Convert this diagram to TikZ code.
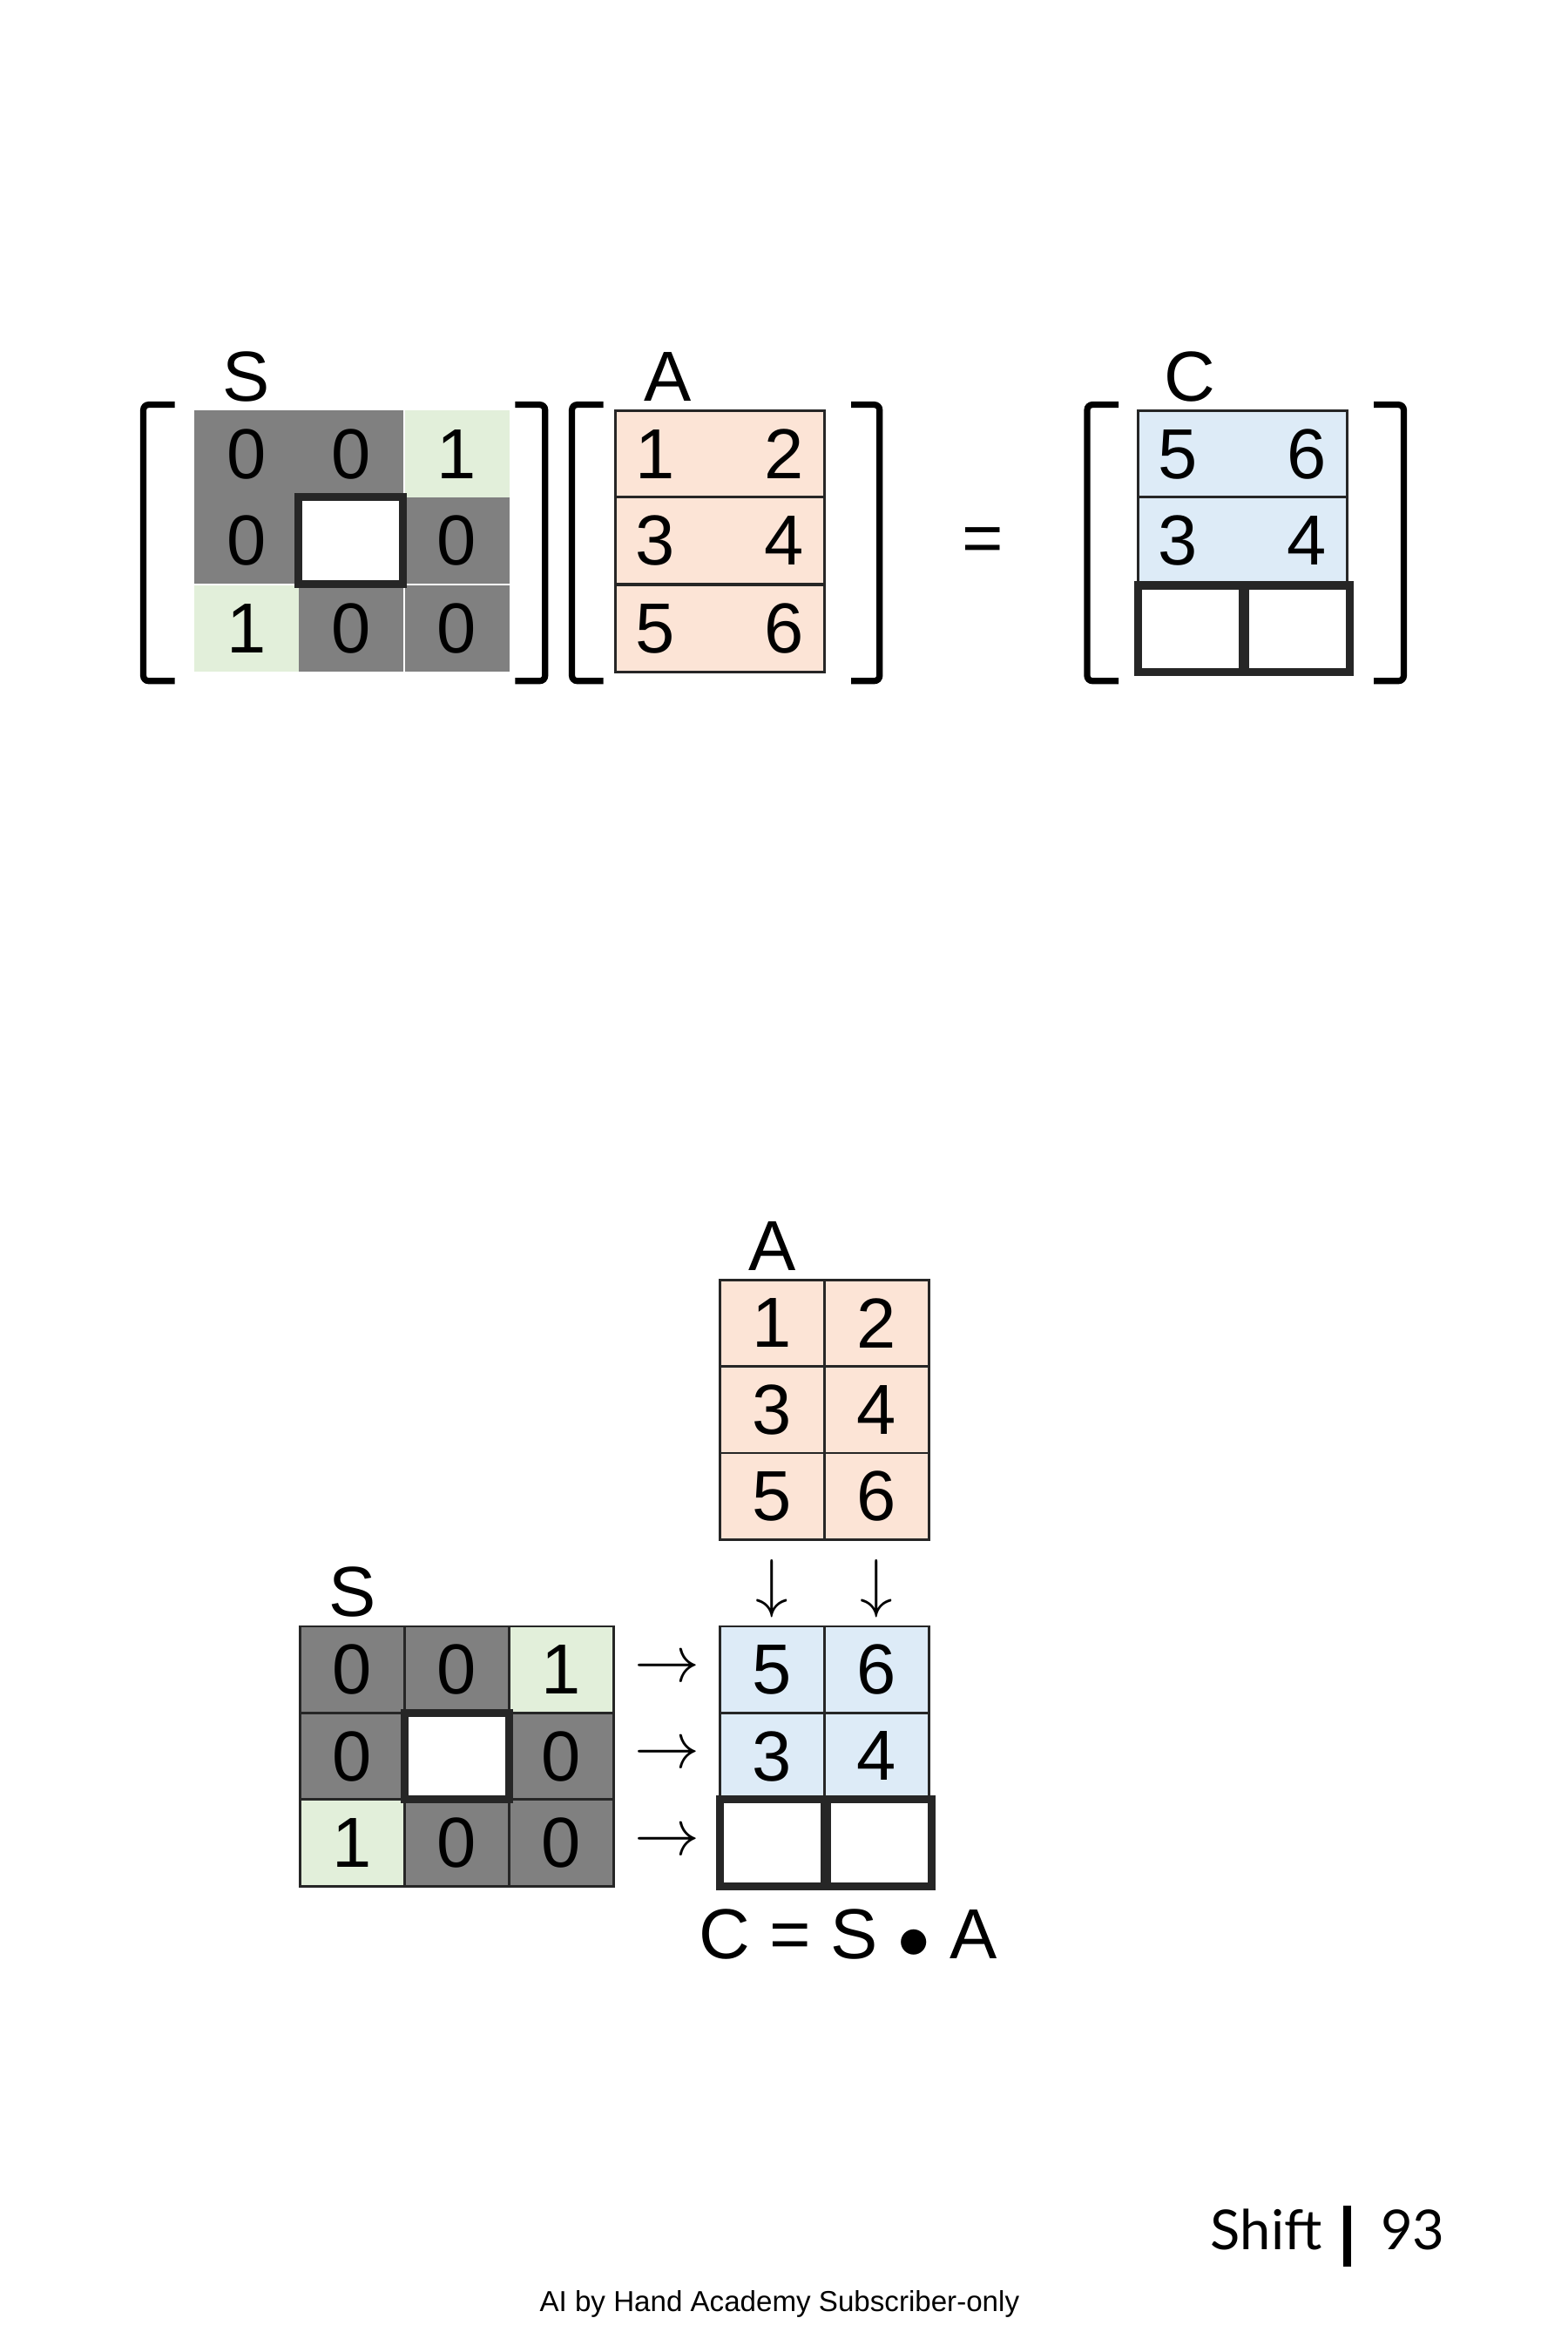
\documentclass[tikz,border=0pt]{standalone}
\usepackage{fontspec}
\setmainfont{Liberation Sans}
\newfontfamily\pagefont{Lato}
\usetikzlibrary{positioning}
\definecolor{sgray}{HTML}{808080}
\definecolor{sgreen}{HTML}{E2EFDA}
\definecolor{apeach}{HTML}{FCE4D6}
\definecolor{cblue}{HTML}{DDEBF7}
\tikzset{
	every node/.style={align=center, font=\fontsize{27}{30}\selectfont},
	%
	cell/.style={minimum width=1.4cm, minimum height=1.16cm, inner sep=0pt,
		outer sep=0pt, draw=black!85, line width=0.9pt},
	dark/.style={cell, fill=sgray},
	light/.style={cell, fill=sgreen},
	hole/.style={cell, fill=white, line width=3pt},
	peach/.style={cell, fill=apeach},
	blue/.style={cell, fill=cblue},
	bracket/.style={line width=2.4pt, rounded corners=2pt},
}
\begin{document}
\begin{tikzpicture}[x=0.02cm, y=-0.02cm]
		\useasboundingbox (0,0) rectangle (1050,1575);
		% top row: S A = C
		\foreach \r/\y in {0/304, 1/362, 2/421} {
			\foreach \c/\x in {0/165, 1/235, 2/306} {
				\node (ts-\r-\c) [dark, draw=none] at (\x,\y) {};
			}
		}
		\node [light, draw=none] at (ts-0-2) {1};
		\node [light, draw=none] at (ts-2-0) {1};
		\foreach \n in {0-0, 0-1, 1-0, 1-2, 2-1, 2-2} {
			\node at (ts-\n) {0};
		}
		\node [hole] at (ts-1-1) {};
		\node (ts) [above=0pt of ts-0-0] {S};
		\draw [bracket] (117,271) -- (96,271) -- (96,456) -- (117,456);
		\draw [bracket] (345,271) -- (365,271) -- (365,456) -- (345,456);
		%
		\foreach \r/\y/\a/\b in {0/304/1/2, 1/362/3/4, 2/421/5/6} {
			\node (ta-\r) [peach, minimum width=2.8cm] at (482,\y) {\a\hspace{1.2cm}\b};
		}
		\node [above=0pt of ta-0.north west, xshift=0.7cm, anchor=south] {A};
		\draw [bracket] (404,271) -- (383,271) -- (383,456) -- (404,456);
		\draw [bracket] (570,271) -- (589,271) -- (589,456) -- (570,456);
		%
		\node (eq) at (658,365) {=};
		%
		\foreach \r/\y/\a/\b in {0/304/5/6, 1/362/3/4} {
			\node (tc-\r) [blue, minimum width=2.8cm] at (832,\y) {\a\hspace{1.2cm}\b};
		}
		\node (tc-2-0) [hole] at (797,421) {};
		\node (tc-2-1) [hole] at (869,421) {};
		\node [above=0pt of tc-0.north west, xshift=0.7cm, anchor=south] {C};
		\draw [bracket] (749,271) -- (728,271) -- (728,456) -- (749,456);
		\draw [bracket] (920,271) -- (940,271) -- (940,456) -- (920,456);
		% bottom: worked layout
		\foreach \r/\y/\a/\b in {0/886/1/2, 1/944/3/4, 2/1002/5/6} {
			\node (a-\r-0) [peach] at (517,\y) {\a};
			\node (a-\r-1) [peach] at (587,\y) {\b};
		}
		\node [above=0pt of a-0-0] {A};
		\foreach \c in {0,1} {
			\node (dn-\c) [below=4pt of a-2-\c] {$\downarrow$};
		}
		%
		\foreach \r/\y in {0/1118, 1/1176, 2/1234} {
			\foreach \c/\x in {0/236, 1/306, 2/376} {
				\node (s-\r-\c) [dark] at (\x,\y) {0};
			}
			\node (rt-\r) at (447,\y) {$\rightarrow$};
		}
		\node [light] at (s-0-2) {1};
		\node [light] at (s-2-0) {1};
		\node [hole] at (s-1-1) {};
		\node [above=0pt of s-0-0] {S};
		%
		\foreach \r/\y/\a/\b in {0/1118/5/6, 1/1176/3/4} {
			\node (c-\r-0) [blue] at (517,\y) {\a};
			\node (c-\r-1) [blue] at (587,\y) {\b};
		}
		\node (c-2-0) [hole] at (517,1234) {};
		\node (c-2-1) [hole] at (589,1234) {};
		\node (eqn) at (568,1295) {C = S $\bullet$ A};
		% page footer
		\node (title) [font=\pagefont\fontsize{21}{24}\selectfont] at (848,1493) {Shift};
		\draw [line width=3pt] (902,1477) -- (902,1518);
		\node (page) [font=\pagefont\fontsize{21}{24}\selectfont] at (946,1493) {93};
		\node (foot) [font=\fontsize{11}{13}\selectfont] at (522,1543) {AI by Hand Academy Subscriber-only};
	\end{tikzpicture}
\end{document}
